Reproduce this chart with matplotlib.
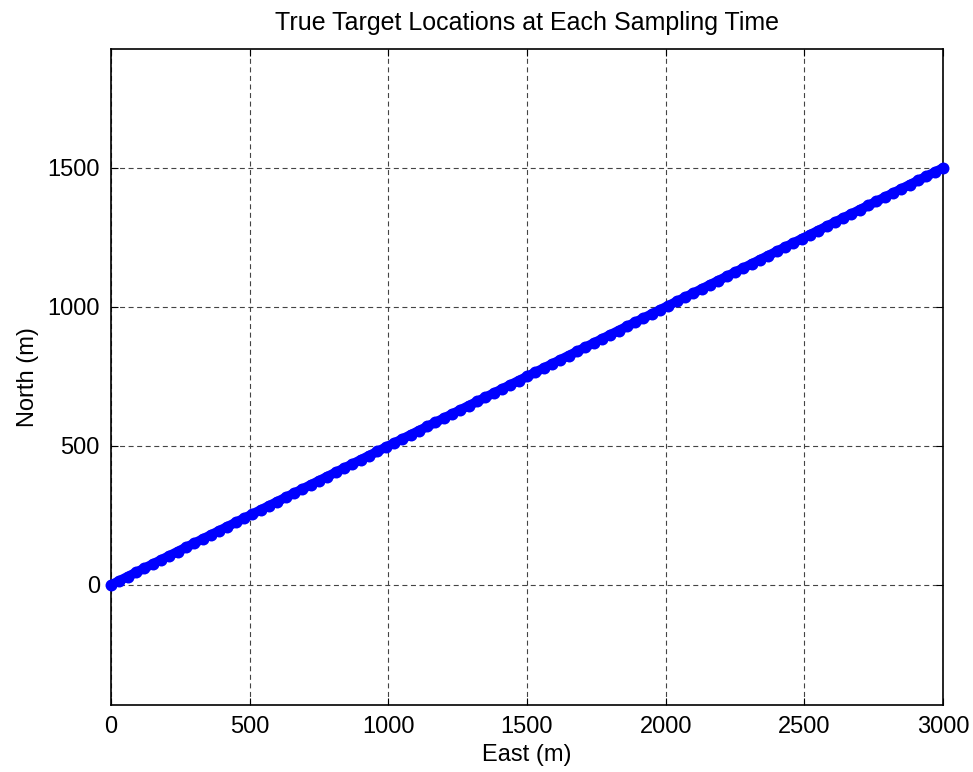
import matplotlib.pyplot as plt

plt.rcParams['font.family'] = ['Liberation Sans', 'DejaVu Sans']

# true target positions at each sampling time (m)
east = [0, 30, 60, 90, 120, 150, 180, 210, 240, 270,
        300, 330, 360, 390, 420, 450, 480, 510, 540, 570,
        600, 630, 660, 690, 720, 750, 780, 810, 840, 870,
        900, 930, 960, 990, 1020, 1050, 1080, 1110, 1140, 1170,
        1200, 1230, 1260, 1290, 1320, 1350, 1380, 1410, 1440, 1470,
        1500, 1530, 1560, 1590, 1620, 1650, 1680, 1710, 1740, 1770,
        1800, 1830, 1860, 1890, 1920, 1950, 1980, 2010, 2040, 2070,
        2100, 2130, 2160, 2190, 2220, 2250, 2280, 2310, 2340, 2370,
        2400, 2430, 2460, 2490, 2520, 2550, 2580, 2610, 2640, 2670,
        2700, 2730, 2760, 2790, 2820, 2850, 2880, 2910, 2940, 2970,
        3000]
north = [0, 15, 30, 45, 60, 75, 90, 105, 120, 135,
         150, 165, 180, 195, 210, 225, 240, 255, 270, 285,
         300, 315, 330, 345, 360, 375, 390, 405, 420, 435,
         450, 465, 480, 495, 510, 525, 540, 555, 570, 585,
         600, 615, 630, 645, 660, 675, 690, 705, 720, 735,
         750, 765, 780, 795, 810, 825, 840, 855, 870, 885,
         900, 915, 930, 945, 960, 975, 990, 1005, 1020, 1035,
         1050, 1065, 1080, 1095, 1110, 1125, 1140, 1155, 1170, 1185,
         1200, 1215, 1230, 1245, 1260, 1275, 1290, 1305, 1320, 1335,
         1350, 1365, 1380, 1395, 1410, 1425, 1440, 1455, 1470, 1485,
         1500]

xticks = [0, 500, 1000, 1500, 2000, 2500, 3000]
yticks = [0, 500, 1000, 1500]

fig = plt.figure(figsize=(9.73, 7.72), dpi=100)
ax = fig.add_axes([111/973, 1 - 705/772, 832/973, 656/772])

ax.plot(east, north, '-', color='#0000ff', lw=6.8, marker='o', ms=8.6,
        markeredgewidth=0, solid_capstyle='round', zorder=3, clip_on=False)

ax.set_xlim(0, 3000)
ax.set_ylim(-432, 1928)
ax.set_xticks(xticks)
ax.set_yticks(yticks)

ax.grid(True, color='#444444', linestyle=(0, (4.5, 3.2)), linewidth=0.8)
ax.tick_params(direction='in', top=True, right=True, length=5, labelsize=17,
               pad=8)
for s in ax.spines.values():
    s.set_linewidth(1.2)

ax.set_title('True Target Locations at Each Sampling Time', fontsize=18, pad=14)
ax.set_xlabel('East (m)', fontsize=17, labelpad=4)
ax.set_ylabel('North (m)', fontsize=17, labelpad=6)

fig.savefig('out.png', dpi=100)
